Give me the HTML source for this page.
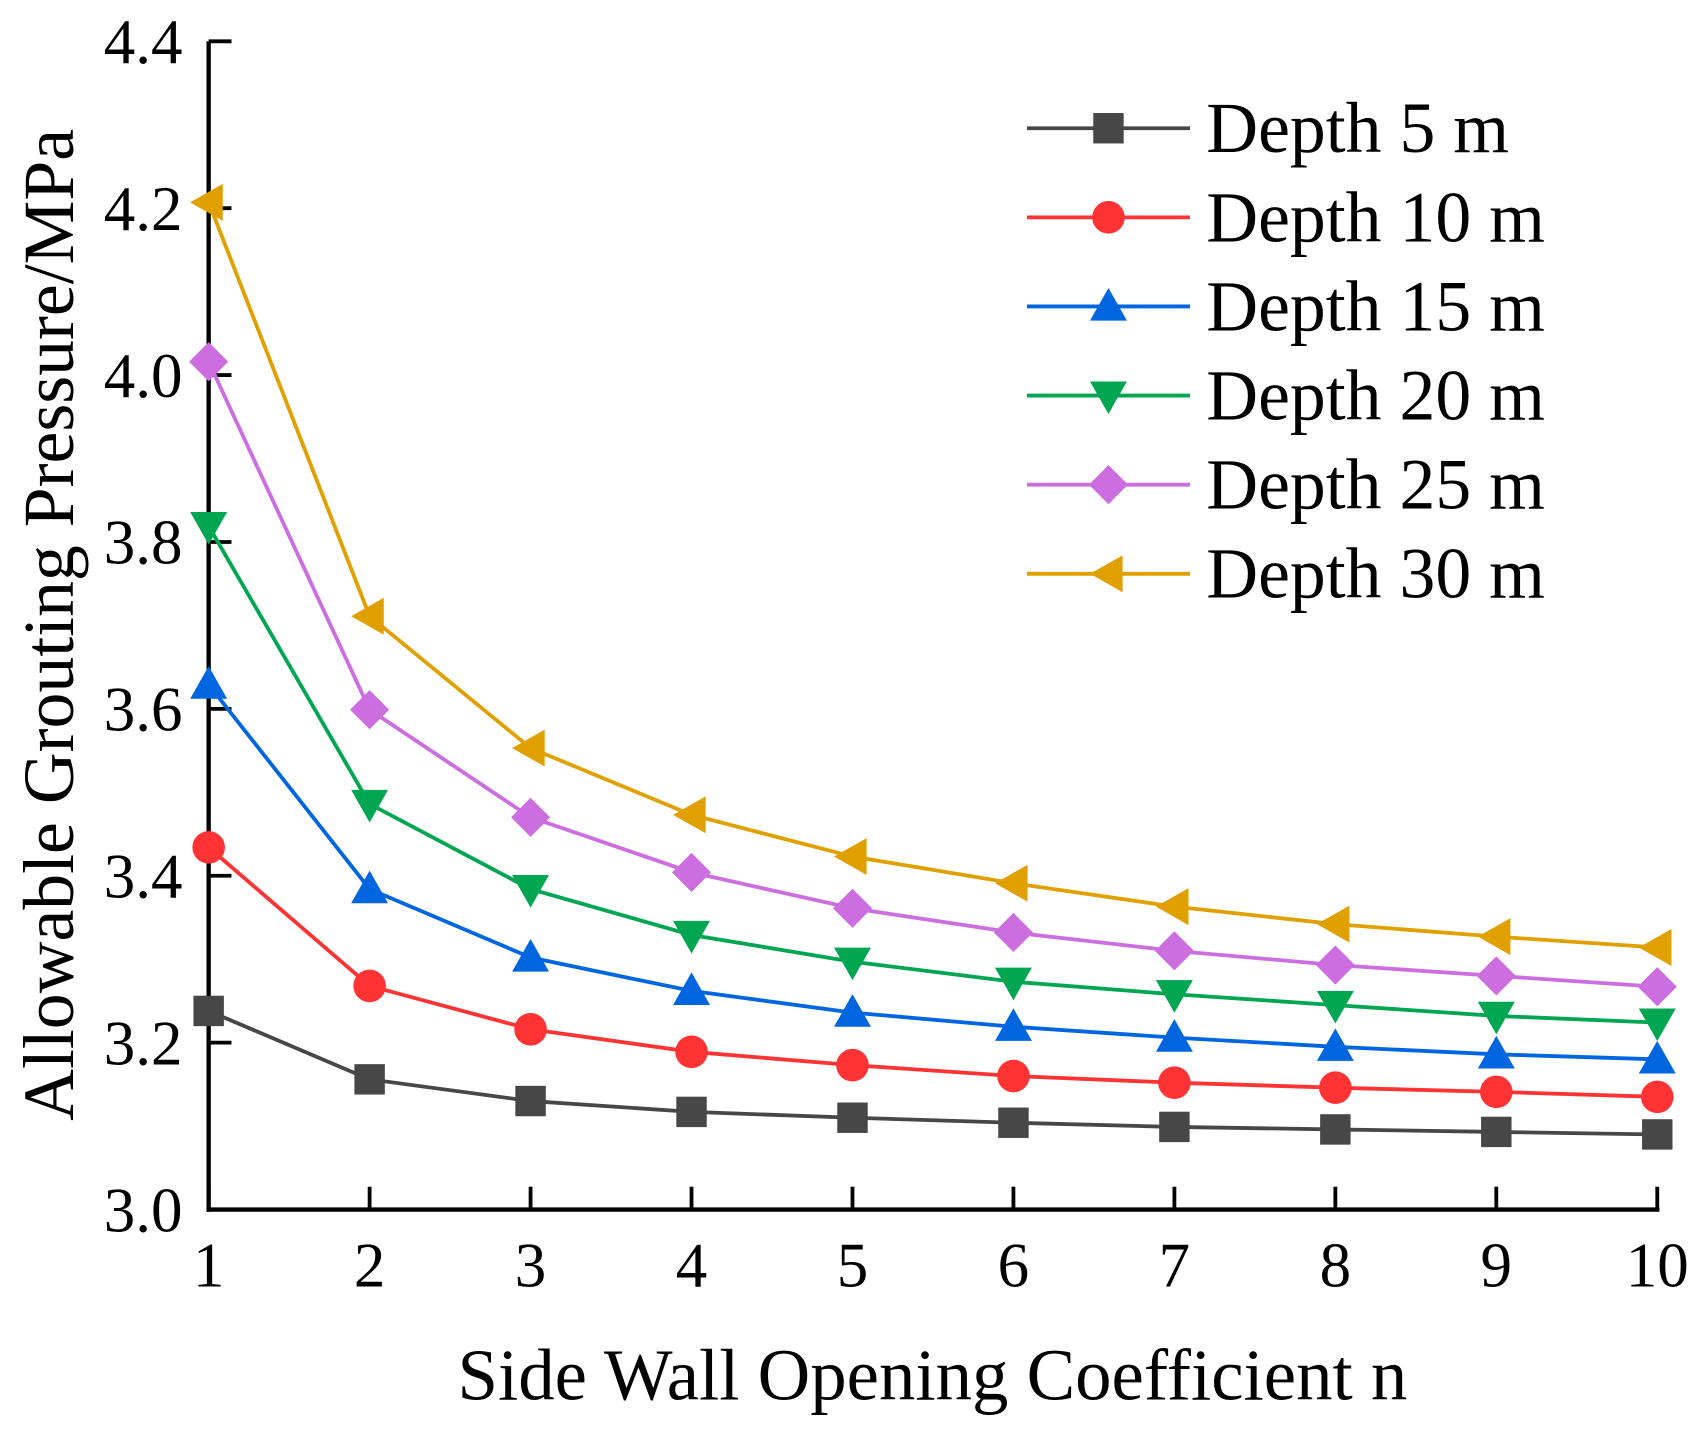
<!DOCTYPE html>
<html><head><meta charset="utf-8"><style>
html,body{margin:0;padding:0;background:#fff;}
svg{display:block;font-family:"Liberation Serif","Times New Roman",serif;}
</style></head><body>
<svg id="chart" width="1704" height="1441" viewBox="0 0 1568 1326" xmlns="http://www.w3.org/2000/svg">
<g id="axes"></g>
<g id="series"></g>
<g id="legend"></g>
<text x="858" y="1288" font-size="67" text-anchor="middle">Side Wall Opening Coefficient n</text>
<text transform="translate(67,575) rotate(-90)" font-size="66" text-anchor="middle">Allowable Grouting Pressure/MPa</text>
</svg>
<script>
const categories = [1,2,3,4,5,6,7,8,9,10];
const yTicks = [3.0,3.2,3.4,3.6,3.8,4.0,4.2,4.4];
const seriesNames = ["Depth 5 m","Depth 10 m","Depth 15 m","Depth 20 m","Depth 25 m","Depth 30 m"];
const depth5 = [3.238,3.156,3.130,3.117,3.110,3.104,3.099,3.096,3.093,3.090];
const depth10 = [3.434,3.268,3.216,3.189,3.173,3.160,3.152,3.146,3.141,3.135];
const depth15 = [3.629,3.384,3.302,3.262,3.236,3.219,3.206,3.195,3.186,3.180];
const depth20 = [3.819,3.486,3.384,3.329,3.297,3.273,3.258,3.245,3.232,3.224];
const depth25 = [4.016,3.599,3.470,3.404,3.361,3.332,3.310,3.293,3.280,3.267];
const depth30 = [4.207,3.711,3.553,3.473,3.423,3.391,3.363,3.342,3.327,3.314];

const allSeries=[depth5,depth10,depth15,depth20,depth25,depth30];
const colors=["#474747","#ff3333","#0066e0","#00a651","#cc6ee0","#e0a000"];
const markers=["square","circle","up","down","diamond","left"];
const X0=192,X1=1525,Y0=1113,Y1=38;
const xs=v=>X0+(v-1)/(9)*(X1-X0);
const ys=v=>Y0-(v-3.0)/1.4*(Y0-Y1);
const NS="http://www.w3.org/2000/svg";
function mk(tag,attrs,parent){const e=document.createElementNS(NS,tag);for(const k in attrs)e.setAttribute(k,attrs[k]);parent.appendChild(e);return e;}
const axes=document.getElementById('axes');
let a=mk('line',{x1:X0,y1:Y1,x2:X0,y2:Y0+2,stroke:'#000','stroke-width':4},axes);


a=mk('line',{x1:X0-2,y1:Y0,x2:X1+2,y2:Y0,stroke:'#000','stroke-width':4},axes);


yTicks.forEach(t=>{
  const y=ys(t);
  const tk=mk('line',{x1:X0,y1:y,x2:X0+21,y2:y,stroke:'#000','stroke-width':3.5},axes);
  
  
  const tx=mk('text',{x:168,y:y+20,'font-size':58,'text-anchor':'end'},axes);
  tx.textContent=t.toFixed(1);
  
  
});
categories.forEach(c=>{
  const x=xs(c);
  const tk=mk('line',{x1:x,y1:Y0,x2:x,y2:Y0-21,stroke:'#000','stroke-width':3.5},axes);
  
  
  const tx=mk('text',{x:x,y:1184,'font-size':58,'text-anchor':'middle'},axes);
  tx.textContent=c;
  
  
});
function marker(type,x,y,color,parent){
  const s=15;let e;
  if(type==='square')e=mk('rect',{x:x-s+1,y:y-s+1,width:2*s-2,height:2*s-2,fill:color},parent);
  else if(type==='circle')e=mk('circle',{cx:x,cy:y,r:s,fill:color},parent);
  else{
    let p;
    if(type==='up')p=[[x,y-s-2],[x+s+2,y+s-2],[x-s-2,y+s-2]];
    else if(type==='down')p=[[x,y+s+2],[x+s+2,y-s+2],[x-s-2,y-s+2]];
    else if(type==='diamond')p=[[x,y-s-3],[x+s+3,y],[x,y+s+3],[x-s-3,y]];
    else p=[[x-s-2,y],[x+s-2,y-s-2],[x+s-2,y+s+2]];
    e=mk('polygon',{points:p.map(q=>q.join(',')).join(' '),fill:color},parent);
  }
  return e;
}
const sg=document.getElementById('series');
allSeries.forEach((data,i)=>{
  const g=mk('g',{},sg);
  
  
  const ln=mk('polyline',{points:data.map((v,j)=>xs(categories[j])+','+ys(v)).join(' '),fill:'none',stroke:colors[i],'stroke-width':3.5},g);
  
  
  data.forEach((v,j)=>{
    const m=marker(markers[i],xs(categories[j]),ys(v),colors[i],g);
    
    
  });
});
const lg=document.getElementById('legend');
seriesNames.forEach((n,i)=>{
  const y=118+i*82;
  const g=mk('g',{},lg);
  
  
  mk('line',{x1:945,y1:y,x2:1095,y2:y,stroke:colors[i],'stroke-width':3.5},g);
  marker(markers[i],1020,y,colors[i],g);
  const t=mk('text',{x:1110,y:y+22,'font-size':66},g);
  t.textContent=n;
});
</script>
</body></html>
